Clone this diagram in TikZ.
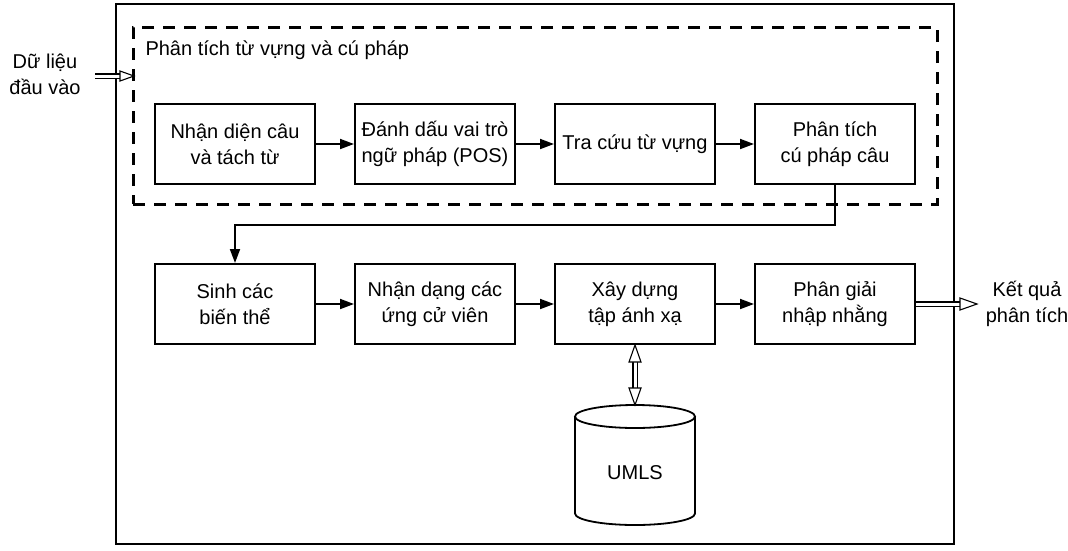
\documentclass[tikz,border=0pt]{standalone}
\usepackage{fontspec}
\setmainfont{Liberation Sans}
\usetikzlibrary{arrows.meta,calc}
\begin{document}
\begin{tikzpicture}[x=1pt,y=-1pt,
  every node/.style={font=\fontsize{20}{26}\selectfont, align=center},
  procbox/.style={draw, line width=2pt, minimum width=160pt, minimum height=80pt, inner sep=0pt},
  frame/.style={draw, line width=1.8pt, inner sep=0pt},
  groupbox/.style={draw, line width=3pt, dash pattern=on 12pt off 9pt, inner sep=0pt},
  flow/.style={line width=1.8pt, -{Triangle[length=14pt,width=10pt]}},
  dbl/.style={line width=1.1pt, double=white, double distance=3pt},
  hollowhead/.style={draw, line width=1.1pt, fill=white, line join=miter},
  dbshape/.style={draw, line width=1.8pt}
]
\useasboundingbox (0,0) rectangle (1068,550);
% containers
\node[frame, minimum width=838pt, minimum height=540pt] (outer) at (535,274) {};
\node[groupbox, minimum width=804pt, minimum height=177pt] (group) at (535,115.5) {};
\node[anchor=west] (title) at (142,50) {Phân tích từ vựng và cú pháp};
% process boxes
\node[procbox] (b1) at (235,144) {Nhận diện câu\\và tách từ};
\node[procbox] (b2) at (435,144) {Đánh dấu vai trò\\ngữ pháp (POS)};
\node[procbox] (b3) at (635,144) {Tra cứu từ vựng};
\node[procbox] (b4) at (835,144) {Phân tích\\cú pháp câu};
\node[procbox] (b5) at (235,304) {Sinh các\\biến thể};
\node[procbox] (b6) at (435,304) {Nhận dạng các\\ứng cử viên};
\node[procbox] (b7) at (635,304) {Xây dựng\\tập ánh xạ};
\node[procbox] (b8) at (835,304) {Phân giải\\nhập nhằng};
% flows
\draw[flow] (b1) -- (b2);
\draw[flow] (b2) -- (b3);
\draw[flow] (b3) -- (b4);
\coordinate (turn) at (835,225);
\draw[flow] (b4.south) -- (turn) -| (b5.north);
\draw[flow] (b5) -- (b6);
\draw[flow] (b6) -- (b7);
\draw[flow] (b7) -- (b8);
% input
\node (inp) at (45,74) {Dữ liệu\\đầu vào};
\coordinate (inS) at (95,76);
\coordinate (inE) at (134,76);
\draw[dbl] (inS) -- ($(inE)+(-14,0)$);
\draw[hollowhead] ($(inE)+(-14,-5)$) -- (inE) -- ($(inE)+(-14,5)$) -- cycle;
% output
\node (out) at (1027,304) {Kết quả\\phân tích};
\coordinate (outE) at (977,304);
\draw[dbl] (b8.east) -- ($(outE)+(-17,0)$);
\draw[hollowhead] ($(outE)+(-17,-6)$) -- (outE) -- ($(outE)+(-17,6)$) -- cycle;
% database
\coordinate (dbtop) at (635,405);
\node (db) at (635,473) {UMLS};
\draw[dbshape] (575,416.5) -- (575,513.5) arc[start angle=180, end angle=0, x radius=60, y radius=11.5] -- (695,416.5);
\draw[dbshape] (635,416.5) ellipse[x radius=60, y radius=11.5];
\draw[dbl] ($(b7.south)+(0,16)$) -- ($(dbtop)+(0,-16)$);
\draw[hollowhead] ($(b7.south)+(-6,17)$) -- (b7.south) -- ($(b7.south)+(6,17)$) -- cycle;
\draw[hollowhead] ($(dbtop)+(-6,-17)$) -- (dbtop) -- ($(dbtop)+(6,-17)$) -- cycle;
\end{tikzpicture}
\end{document}
